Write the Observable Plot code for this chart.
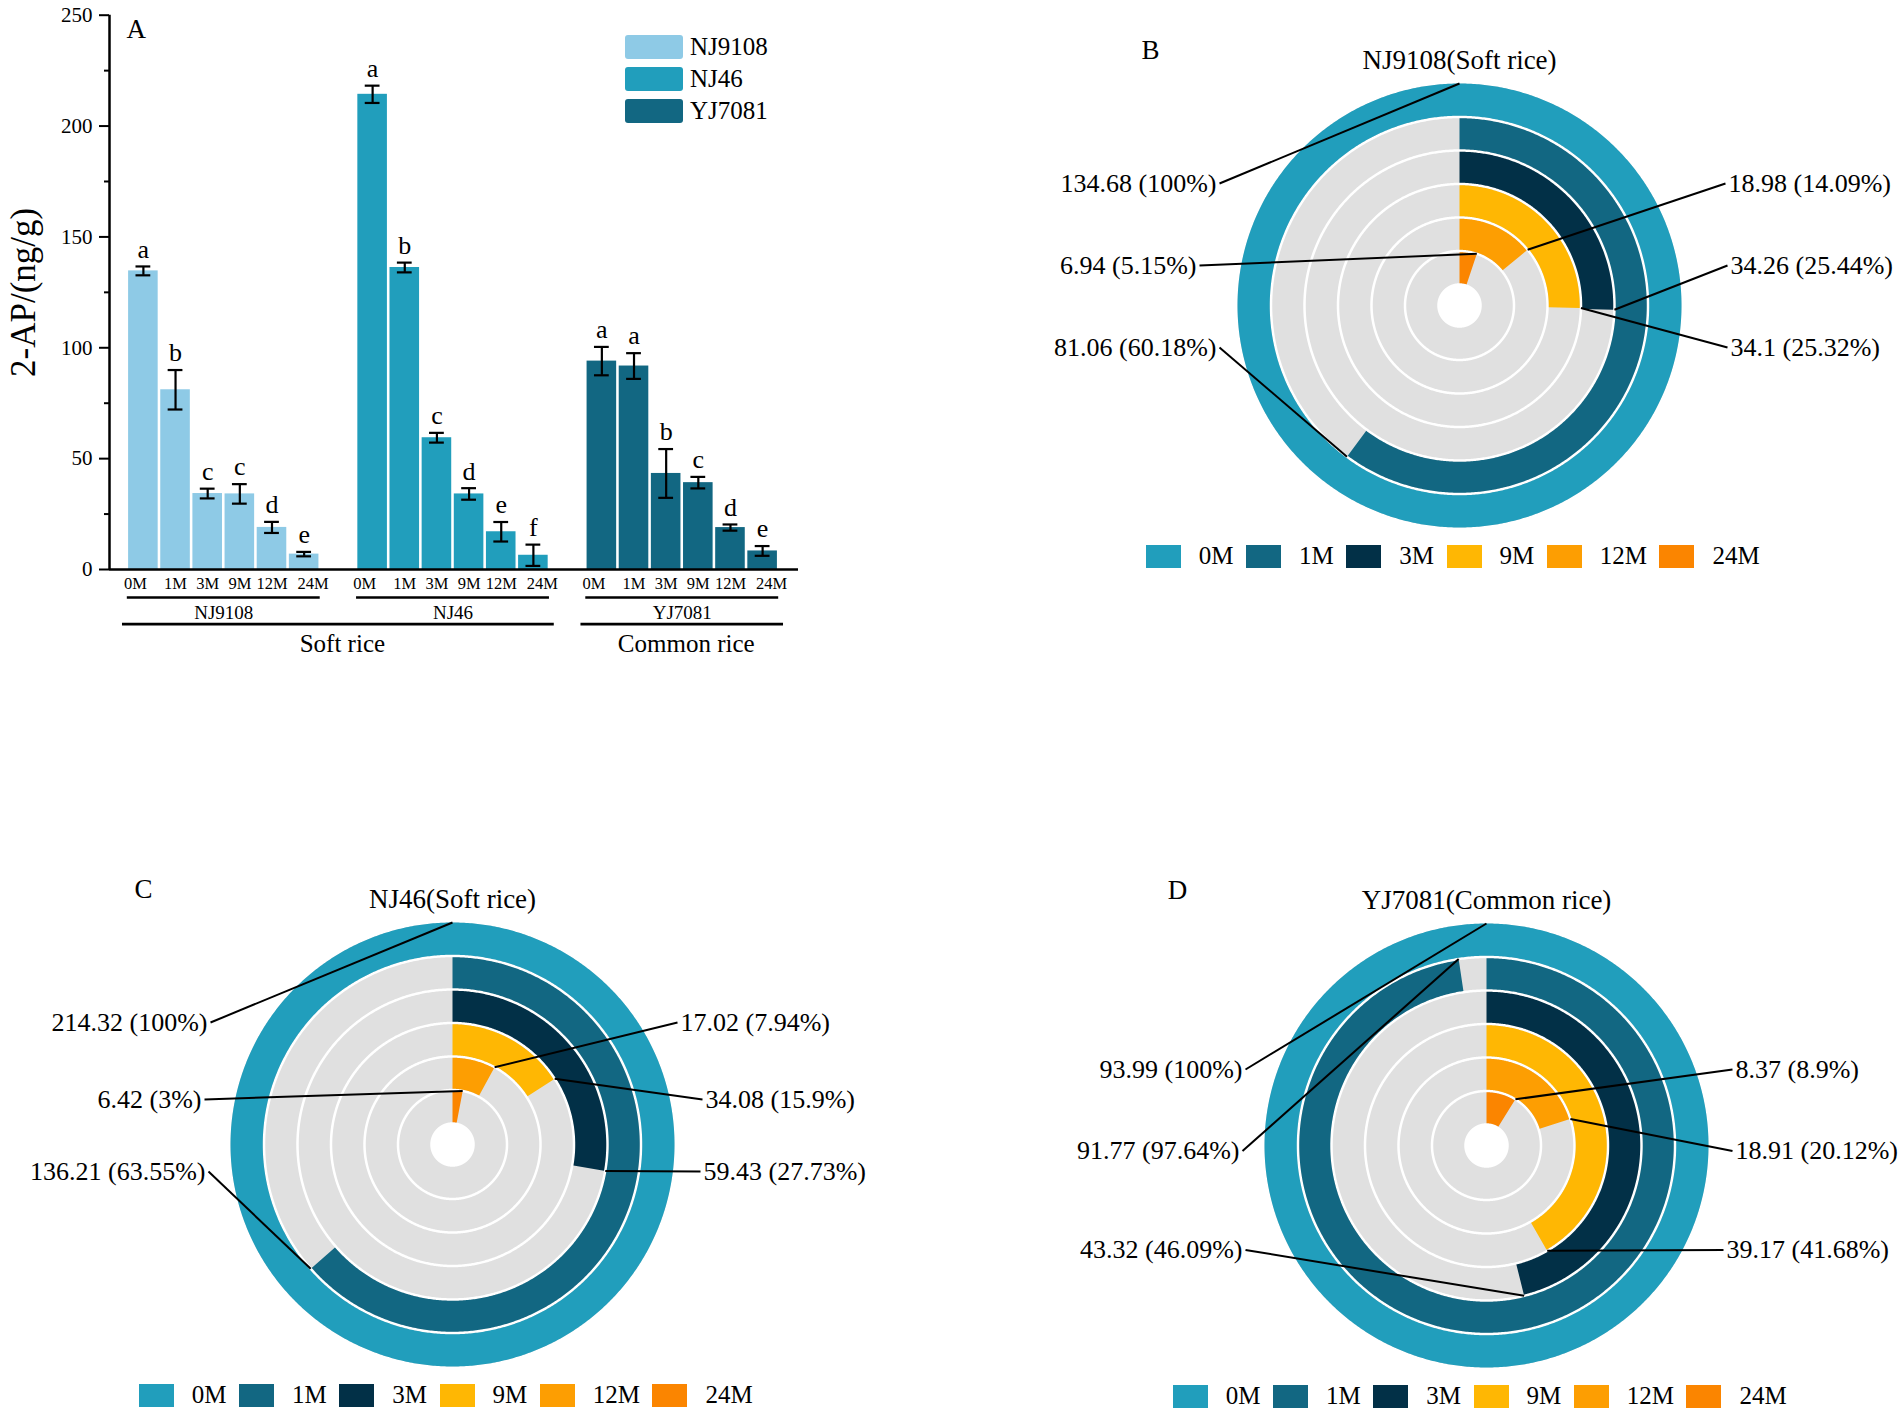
<!DOCTYPE html>
<html>
<head>
<meta charset="utf-8">
<script src="https://cdn.jsdelivr.net/npm/d3@7"></script>
<script src="https://cdn.jsdelivr.net/npm/@observablehq/plot@0.6"></script>
<style>
html, body { margin: 0; padding: 0; background: #fff; overflow: hidden; }
#fig { position: relative; width: 1902px; height: 1415px; overflow: hidden; background: #fff;
  font-family: "Liberation Serif", "Times New Roman", serif; color: #000; }
.abs { position: absolute; }
.la-swatches { font-family: "Liberation Serif", "Times New Roman", serif !important; font-size: 25px !important; margin: 0 !important; color: #000; width: 220px !important; columns: 1 !important; }
.la-swatch { padding-bottom: 8px !important; line-height: 24px !important; }
.la-swatch > svg { margin-right: 7px !important; flex-shrink: 0; }
.la-swatch-label { overflow: visible !important; text-overflow: clip !important; white-space: nowrap !important; }
.la-swatch rect { rx: 3px; }
.rl-swatches { font-family: "Liberation Serif", "Times New Roman", serif !important; font-size: 25px !important; margin: 0 !important; color: #000; }
.rl-swatch { margin-right: 12.5px !important; }
.rl-swatch > svg { margin-right: 18px !important; }
.legwrap { display: flex; justify-content: center; }
</style>
</head>
<body>
<div id="fig"></div>
<script>
// ---------------- data ----------------
const months = ["0M", "1M", "3M", "9M", "12M", "24M"];
const varieties = ["NJ9108", "NJ46", "YJ7081"];
const varietyType = ["Soft rice", "Soft rice", "Common rice"];
const riceTypes = ["Soft rice", "Common rice"];

const meanNJ9108 = [134.68, 81.06, 34.26, 34.1, 18.98, 6.94];
const meanNJ46   = [214.32, 136.21, 59.43, 34.08, 17.02, 6.42];
const meanYJ7081 = [93.99, 91.77, 43.32, 39.17, 18.91, 8.37];

const errNJ9108 = [2.0, 8.9, 2.2, 4.4, 2.5, 1.0];
const errNJ46   = [3.9, 2.2, 2.2, 2.6, 4.4, 4.8];
const errYJ7081 = [6.4, 5.8, 11.0, 2.6, 1.4, 2.2];

const letNJ9108 = ["a", "b", "c", "c", "d", "e"];
const letNJ46   = ["a", "b", "c", "d", "e", "f"];
const letYJ7081 = ["a", "a", "b", "c", "d", "e"];

const pctNJ9108 = [100, 60.18, 25.44, 25.32, 14.09, 5.15];
const pctNJ46   = [100, 63.55, 27.73, 15.9, 7.94, 3];
const pctYJ7081 = [100, 97.64, 46.09, 41.68, 20.12, 8.9];

const yTicks = [0, 50, 100, 150, 200, 250];
const yMinorTicks = [25, 75, 125, 175, 225];

const barColors = ["#8ecae6", "#219ebc", "#126782"];
const ringColors = ["#219ebc", "#126782", "#023047", "#ffb703", "#fd9e02", "#fb8500"];
const ringGray = "#e0e0e0";

// ---------------- layout ----------------
const SERIF = "'Liberation Serif', 'Times New Roman', serif";
const fig = document.getElementById("fig");
function place(node, left, top, cls) {
  const d = document.createElement("div");
  d.className = "abs" + (cls ? " " + cls : "");
  d.style.left = left + "px"; d.style.top = top + "px";
  d.appendChild(node); fig.appendChild(d); return d;
}

// ---------------- panel A: bar chart ----------------
const GROUP_STEP = 7.13, BAR_HALF = 0.46, CAP_HALF = 0.23;
const X_DOMAIN = [-1.054, 20.376];
const monthLabelDx = [-8, 0, 0, 0, 0, 9]; // horizontal nudges of the month tick labels (px)
const means = [meanNJ9108, meanNJ46, meanYJ7081];
const errs = [errNJ9108, errNJ46, errYJ7081];
const lets = [letNJ9108, letNJ46, letYJ7081];

const bars = varieties.flatMap((v, g) => months.map((m, i) => ({
  variety: v, month: m, mi: i, value: means[g][i], err: errs[g][i], letter: lets[g][i], pos: g * GROUP_STEP + i
})));
const caps = bars.flatMap(d => [{pos: d.pos, y: d.value - d.err}, {pos: d.pos, y: d.value + d.err}]);
const groups = varieties.map((v, g) => ({
  variety: v, type: varietyType[g], first: g * GROUP_STEP, last: g * GROUP_STEP + months.length - 1
}));
const types = riceTypes.map(t => {
  const gs = groups.filter(d => d.type === t);
  return {type: t, first: gs[0].first, last: gs[gs.length - 1].last};
});

const plotA = Plot.plot({
  width: 820, height: 680,
  marginLeft: 109, marginRight: 22, marginTop: 14.7, marginBottom: 111,
  style: {fontFamily: SERIF, background: "none", maxWidth: "none", overflow: "visible", color: "#000"},
  x: {type: "linear", domain: X_DOMAIN, axis: null},
  y: {domain: [0, 250], label: null},
  color: {domain: varieties, range: barColors},
  marks: [
    Plot.rect(bars, {x1: d => d.pos - BAR_HALF, x2: d => d.pos + BAR_HALF, y1: 0, y2: "value", fill: "variety"}),
    Plot.ruleX(bars, {x: "pos", y1: d => d.value - d.err, y2: d => d.value + d.err, stroke: "#000", strokeWidth: 2.2}),
    Plot.ruleY(caps, {y: "y", x1: d => d.pos - CAP_HALF, x2: d => d.pos + CAP_HALF, stroke: "#000", strokeWidth: 2.2}),
    Plot.text(bars, {x: "pos", y: d => d.value + d.err, text: "letter", dy: -17, fontSize: 26}),
    Plot.axisY({ticks: yTicks, tickSize: 10, tickPadding: 7, fontSize: 21, strokeWidth: 2, label: null}),
    Plot.axisY({ticks: yMinorTicks, tickSize: 5, tickFormat: () => "", strokeWidth: 2, label: null}),
    Plot.ruleX([X_DOMAIN[0]], {y1: 0, y2: 250, stroke: "#000", strokeWidth: 2.5}),
    Plot.ruleY([0], {stroke: "#000", strokeWidth: 2.5}),
    ...months.map((m, i) => Plot.text(bars.filter(d => d.mi === i), {x: "pos", y: 0, text: "month", dy: 14, dx: monthLabelDx[i], fontSize: 16.5})),
    Plot.ruleY(groups, {y: 0, x1: d => d.first - 0.5, x2: d => d.last + 0.5, dy: 28, stroke: "#000", strokeWidth: 2.7}),
    Plot.text(groups, {x: d => (d.first + d.last) / 2, y: 0, text: "variety", dy: 43.5, fontSize: 19}),
    Plot.ruleY(types, {y: 0, x1: d => d.first - 0.65, x2: d => d.last + 0.65, dy: 54.6, stroke: "#000", strokeWidth: 2.7}),
    Plot.text(types, {x: d => (d.first + d.last) / 2, y: 0, text: "type", dy: 74, dx: 4, fontSize: 25}),
    Plot.text(["A"], {frameAnchor: "top-left", textAnchor: "start", dx: 17, dy: 3.5, fontSize: 27}),
    Plot.text(["2-AP/(ng/g)"], {frameAnchor: "left", textAnchor: "middle", rotate: -90, dx: -86, fontSize: 35})
  ]
});
place(plotA, 0, 0);
const legA = place(plotA.legend("color", {columns: 1, swatchWidth: 58, swatchHeight: 24, className: "la"}), 625, 35);
legA.style.width = "220px";

// ---------------- panels B, C, D: radial bars ----------------
const RING_EDGES = [21, 54.5, 88, 121.5, 155, 188.5, 222];
const RING_GAP = 2.5;

const layoutB = [["left", -243, -122], ["left", -243, 42], ["right", 271, -40], ["right", 271, 42], ["right", 269, -122], ["left", -263, -40]];
const layoutC = [["left", -245, -122], ["left", -247, 27], ["right", 251, 27], ["right", 253, -45], ["right", 228, -122], ["left", -251, -45]];
const layoutD = [["left", -244, -76], ["left", -247, 5.5], ["left", -244, 104.5], ["right", 240, 104.5], ["right", 249, 5.5], ["right", 249, -76]];

const radialPanels = [
  {letter: "B", title: "NJ9108(Soft rice)", values: meanNJ9108, pcts: pctNJ9108, layout: layoutB, cx: 1459, cy: 305},
  {letter: "C", title: "NJ46(Soft rice)", values: meanNJ46, pcts: pctNJ46, layout: layoutC, cx: 452, cy: 1144},
  {letter: "D", title: "YJ7081(Common rice)", values: meanYJ7081, pcts: pctYJ7081, layout: layoutD, cx: 1486, cy: 1145}
];

function sector(r0, r1, t0, t1) {
  const n = Math.max(8, Math.ceil((t1 - t0) / (Math.PI / 360)));
  const outer = [], inner = [];
  for (let i = 0; i <= n; ++i) {
    const t = t0 + (t1 - t0) * i / n;
    outer.push([r1 * Math.sin(t), -r1 * Math.cos(t)]);
    inner.push([r0 * Math.sin(t), -r0 * Math.cos(t)]);
  }
  return [...outer, ...inner.reverse(), outer[0]];
}
function feature(ring, month) {
  return {type: "Feature", properties: {month}, geometry: {type: "Polygon", coordinates: [ring]}};
}

for (const cfg of radialPanels) {
  const W = 880, H = 520, CX = 440, CY = 275;
  const bg = [], arcs = [], leaders = [];
  cfg.values.forEach((v, i) => {
    const k = months.length - i;
    const rOut = RING_EDGES[k], rIn = RING_EDGES[k - 1];
    const o = i === 0 ? rOut : rOut - RING_GAP / 2;
    const n = rIn + RING_GAP / 2;
    const t = 2 * Math.PI * cfg.pcts[i] / 100;
    bg.push(feature(sector(n, o, 0, 2 * Math.PI), months[i]));
    arcs.push(feature(sector(n, o, 0, t), months[i]));
    const [side, lx, ly] = cfg.layout[i];
    leaders.push({month: months[i], side, lx, ly,
      ex: rOut * Math.sin(t), ey: -rOut * Math.cos(t),
      label: `${v} (${cfg.pcts[i]}%)`});
  });
  const plot = Plot.plot({
    width: W, height: H, margin: 0,
    style: {fontFamily: SERIF, background: "none", maxWidth: "none", overflow: "visible", color: "#000"},
    projection: {type: "identity", domain: {type: "MultiPoint", coordinates: [[-CX, -CY], [W - CX, H - CY]]}},
    color: {domain: months, range: ringColors},
    marks: [
      Plot.geo(bg, {fill: ringGray, stroke: "none"}),
      Plot.geo(arcs, {fill: d => d.properties.month, stroke: "none"}),
      Plot.link(leaders, {x1: d => d.lx + (d.side === "left" ? 3 : -3), y1: "ly", x2: "ex", y2: "ey", stroke: "#000", strokeWidth: 2}),
      Plot.text(leaders.filter(d => d.side === "left"), {x: "lx", y: "ly", text: "label", textAnchor: "end", fontSize: 26}),
      Plot.text(leaders.filter(d => d.side === "right"), {x: "lx", y: "ly", text: "label", textAnchor: "start", fontSize: 26}),
      Plot.text([cfg.title], {x: 0, y: -245, fontSize: 27}),
      Plot.text([cfg.letter], {x: -309, y: -255, fontSize: 27})
    ]
  });
  place(plot, cfg.cx - CX, cfg.cy - CY);
  const lw = place(plot.legend("color", {swatchWidth: 35, swatchHeight: 23, className: "rl"}), cfg.cx - CX, cfg.cy + 251 - 16.5, "legwrap");
  lw.style.width = W + "px";
}
</script>
</body>
</html>
